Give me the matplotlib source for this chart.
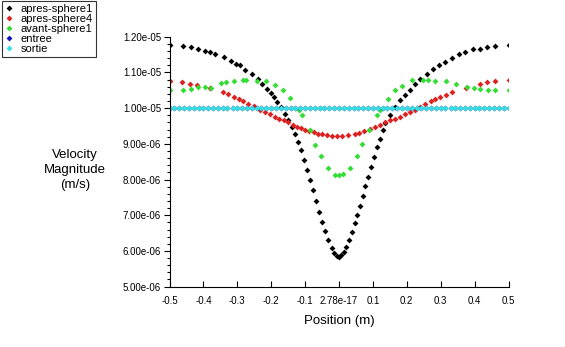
import numpy as np
import matplotlib
matplotlib.use("Agg")
import matplotlib.pyplot as plt
from matplotlib.ticker import MultipleLocator

plt.rcParams['font.family'] = ['Liberation Sans', 'DejaVu Sans']

# velocity values are given in units of 1e-6 m/s
apres1_x = [-0.500, -0.459, -0.438, -0.417, -0.395, -0.380, -0.366, -0.339, -0.320, -0.305,
            -0.292, -0.277, -0.258, -0.240, -0.226, -0.213, -0.202, -0.192, -0.182, -0.171,
            -0.160, -0.149, -0.139, -0.130, -0.121, -0.112, -0.103, -0.094, -0.085, -0.076,
            -0.067, -0.058, -0.049, -0.040, -0.031, -0.022, -0.014, -0.006, 0.000, 0.006,
            0.014, 0.022, 0.030, 0.038, 0.046, 0.054, 0.062, 0.070, 0.078, 0.086,
            0.094, 0.103, 0.112, 0.121, 0.129, 0.137, 0.151, 0.166, 0.181, 0.196,
            0.210, 0.225, 0.240, 0.259, 0.277, 0.294, 0.313, 0.333, 0.353, 0.372,
            0.395, 0.417, 0.438, 0.461, 0.500]
apres1_v = [11.77, 11.73, 11.70, 11.65, 11.61, 11.56, 11.53, 11.42, 11.31, 11.25,
            11.20, 11.08, 10.95, 10.82, 10.68, 10.55, 10.43, 10.32, 10.18, 10.02,
            9.85, 9.67, 9.48, 9.28, 9.05, 8.82, 8.55, 8.27, 7.98, 7.70,
            7.40, 7.10, 6.82, 6.55, 6.30, 6.08, 5.95, 5.87, 5.84, 5.88,
            5.97, 6.12, 6.30, 6.52, 6.78, 7.02, 7.27, 7.55, 7.82, 8.08,
            8.35, 8.62, 8.90, 9.15, 9.38, 9.58, 9.81, 10.04, 10.23, 10.37,
            10.51, 10.67, 10.82, 10.97, 11.10, 11.21, 11.30, 11.41, 11.51, 11.58,
            11.66, 11.67, 11.70, 11.74, 11.77]

apres4_x = [-0.500, -0.462, -0.441, -0.420, -0.380, -0.341, -0.328, -0.311, -0.296, -0.282,
            -0.267, -0.250, -0.232, -0.218, -0.203, -0.188, -0.176, -0.162, -0.150, -0.137,
            -0.124, -0.112, -0.100, -0.088, -0.075, -0.062, -0.050, -0.036, -0.021, -0.006,
            0.008, 0.028, 0.046, 0.060, 0.074, 0.090, 0.107, 0.121, 0.136, 0.151,
            0.166, 0.180, 0.196, 0.210, 0.225, 0.240, 0.254, 0.270, 0.284, 0.298,
            0.316, 0.333, 0.375, 0.417, 0.438, 0.461, 0.500]
apres4_v = [10.77, 10.72, 10.69, 10.66, 10.57, 10.44, 10.39, 10.32, 10.27, 10.21,
            10.13, 10.05, 9.96, 9.89, 9.83, 9.76, 9.71, 9.66, 9.60, 9.53,
            9.48, 9.44, 9.40, 9.37, 9.33, 9.29, 9.27, 9.24, 9.23, 9.22,
            9.22, 9.26, 9.29, 9.31, 9.36, 9.42, 9.47, 9.53, 9.62, 9.67,
            9.71, 9.76, 9.83, 9.88, 9.96, 10.04, 10.12, 10.19, 10.25, 10.31,
            10.37, 10.46, 10.57, 10.69, 10.74, 10.77, 10.80]

avant1_x = [-0.500, -0.459, -0.437, -0.416, -0.396, -0.379, -0.349, -0.334, -0.311, -0.284,
            -0.274, -0.242, -0.215, -0.188, -0.166, -0.145, -0.119, -0.110, -0.087, -0.070,
            -0.053, -0.031, -0.013, 0.000, 0.011, 0.031, 0.053, 0.068, 0.089, 0.112,
            0.121, 0.144, 0.164, 0.185, 0.215, 0.249, 0.264, 0.284, 0.316, 0.346,
            0.377, 0.397, 0.416, 0.441, 0.461, 0.500]
avant1_v = [10.52, 10.52, 10.54, 10.58, 10.58, 10.57, 10.70, 10.72, 10.76, 10.79,
            10.79, 10.77, 10.76, 10.65, 10.50, 10.28, 9.95, 9.80, 9.40, 8.98,
            8.66, 8.32, 8.12, 8.12, 8.15, 8.31, 8.66, 8.99, 9.38, 9.80,
            9.94, 10.25, 10.50, 10.63, 10.79, 10.80, 10.79, 10.77, 10.76, 10.67,
            10.58, 10.57, 10.55, 10.52, 10.52, 10.52]

# inlet and outlet planes share the same sample positions
plane_x = [-0.500, -0.486, -0.471, -0.457, -0.443, -0.429, -0.414, -0.400, -0.386, -0.371,
           -0.357, -0.343, -0.329, -0.314, -0.300, -0.286, -0.271, -0.257, -0.243, -0.229,
           -0.214, -0.200, -0.186, -0.171, -0.157, -0.143, -0.129, -0.114, -0.100, -0.086,
           -0.071, -0.057, -0.043, -0.029, -0.014, 0.000, 0.014, 0.029, 0.043, 0.057,
           0.071, 0.086, 0.100, 0.114, 0.129, 0.143, 0.157, 0.171, 0.186, 0.200,
           0.214, 0.229, 0.243, 0.257, 0.271, 0.286, 0.300, 0.314, 0.329, 0.343,
           0.357, 0.371, 0.386, 0.400, 0.414, 0.429, 0.443, 0.457, 0.471, 0.486, 0.500]
entree_v = [10.0] * len(plane_x)
sortie_v = [10.0] * len(plane_x)

x_ticks = [-0.5, -0.4, -0.3, -0.2, -0.1, 0.0, 0.1, 0.2, 0.3, 0.4, 0.5]
x_labels = ['-0.5', '-0.4', '-0.3', '-0.2', '-0.1', '2.78e-17', '0.1', '0.2', '0.3', '0.4', '0.5']
y_ticks = [5e-6, 6e-6, 7e-6, 8e-6, 9e-6, 1e-5, 1.1e-5, 1.2e-5]
y_labels = ['5.00e-06', '6.00e-06', '7.00e-06', '8.00e-06', '9.00e-06', '1.00e-05', '1.10e-05', '1.20e-05']

series = [
    ('apres-sphere1', apres1_x, apres1_v, '#000000'),
    ('apres-sphere4', apres4_x, apres4_v, '#dd2020'),
    ('avant-sphere1', avant1_x, avant1_v, '#33dd33'),
    ('entree', plane_x, entree_v, '#1010c0'),
    ('sortie', plane_x, sortie_v, '#33e0e0'),
]

fig = plt.figure(figsize=(5.65, 3.47), dpi=100)
ax = fig.add_axes([0.300, 0.174, 0.600, 0.720])

for name, xs, vs, col in series:
    ax.plot(xs, np.array(vs) * 1e-6, linestyle='none', marker='D', markersize=3.0,
            color=col, markeredgewidth=0, label=name)

ax.set_xlim(-0.5, 0.5)
ax.set_ylim(5e-6, 1.2e-5)
ax.set_xticks(x_ticks)
ax.set_xticklabels(x_labels)
ax.set_yticks(y_ticks)
ax.set_yticklabels(y_labels)
ax.yaxis.set_minor_locator(MultipleLocator(2e-7))
ax.tick_params(axis='x', direction='in', length=4, width=0.8, labelsize=7, pad=7)
ax.tick_params(axis='y', which='major', direction='out', length=4, width=0.8, labelsize=7, pad=2)
ax.tick_params(axis='y', which='minor', direction='out', length=2, width=0.8)

for side in ['top', 'right']:
    ax.spines[side].set_visible(False)
for side in ['left', 'bottom']:
    ax.spines[side].set_linewidth(0.8)

ax.set_xlabel('Position (m)', fontsize=9.5, labelpad=6)
fig.text(0.133, 0.51, 'Velocity\nMagnitude\n(m/s)', fontsize=9.5, ha='center', va='center',
         linespacing=1.3)

leg = fig.legend(loc='upper left', bbox_to_anchor=(0.004, 0.996), fontsize=8,
                 frameon=True, fancybox=False, handlelength=0.8, handletextpad=0.6,
                 labelspacing=0.0, borderpad=0.25, borderaxespad=0, markerscale=1.0)
leg.get_frame().set_edgecolor('black')
leg.get_frame().set_linewidth(0.8)

fig.savefig('out.png', dpi=100)
